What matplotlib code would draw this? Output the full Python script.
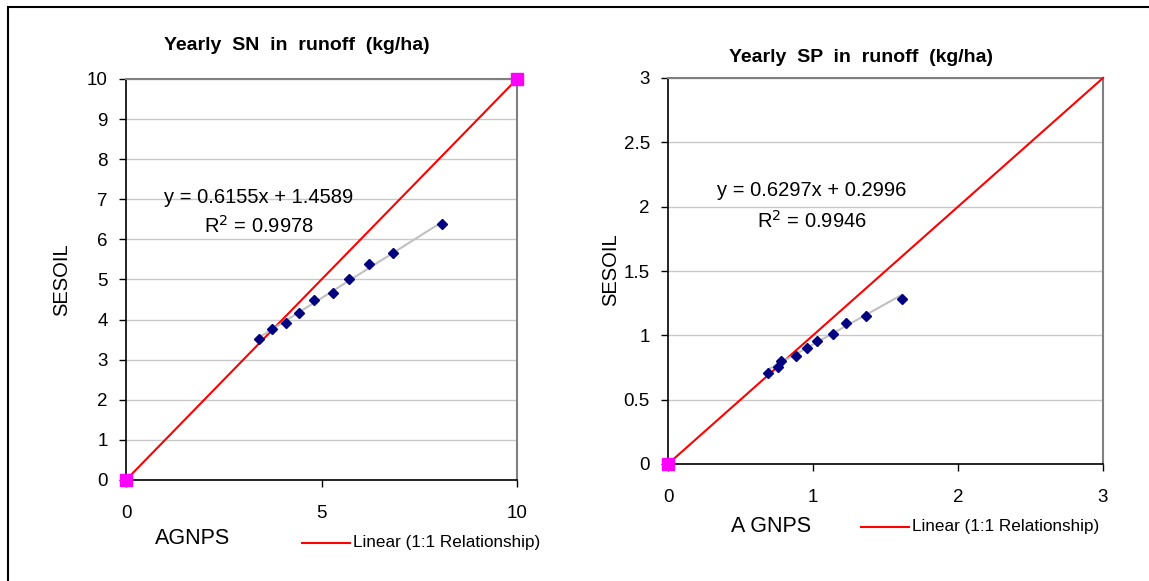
import numpy as np
import matplotlib.pyplot as plt
from matplotlib.patches import Rectangle
from matplotlib.lines import Line2D

plt.rcParams['font.family'] = ['Liberation Sans', 'DejaVu Sans']

# yearly SN (kg/ha)
sn_agnps = [3.41, 3.73, 4.09, 4.42, 4.82, 5.29, 5.71, 6.22, 6.82, 8.08]
sn_sesoil = [3.51, 3.76, 3.92, 4.17, 4.49, 4.66, 5.01, 5.38, 5.65, 6.38]
sn_fit = (0.6155, 1.4589)
sn_r2 = 0.9978

# yearly SP (kg/ha)
sp_agnps = [0.692, 0.761, 0.777, 0.883, 0.956, 1.025, 1.136, 1.228, 1.366, 1.612]
sp_sesoil = [0.710, 0.751, 0.803, 0.839, 0.904, 0.956, 1.010, 1.093, 1.150, 1.282]
sp_fit = (0.6297, 0.2996)
sp_r2 = 0.9946

W, H = 1149, 581
fig = plt.figure(figsize=(W / 100, H / 100), dpi=100)

# outer frame (runs off the right/bottom edge)
fig.patches.append(Rectangle((8 / W, -0.1), 1.2, 1 - 7 / H + 0.1, transform=fig.transFigure,
                             fill=False, edgecolor='black', linewidth=1.5))


def px_axes(l, r, t, b):
    return fig.add_axes([l / W, 1 - b / H, (r - l) / W, (b - t) / H])


def draw_panel(ax, x, y, fit, lim, xstep, ystep, one_one_marks):
    ax.set_xlim(0, lim)
    ax.set_ylim(0, lim)
    ax.set_xticks(np.arange(0, lim + 0.01, xstep))
    yt = np.arange(0, lim + 0.001, ystep)
    ax.set_yticks(yt)
    ax.set_yticklabels([f'{v:g}' for v in yt])
    ax.yaxis.grid(True, color='#c8c8c8', linewidth=1)
    ax.set_axisbelow(True)
    for s in ['top', 'right']:
        ax.spines[s].set_color('#808080')
        ax.spines[s].set_linewidth(1.5)
    for s in ['left', 'bottom']:
        ax.spines[s].set_color('black')
        ax.spines[s].set_linewidth(1.2)
    ax.tick_params(axis='both', labelsize=13.5, length=5, width=1)
    ax.tick_params(axis='x', pad=13)
    ax.tick_params(axis='y', pad=8)

    # 1:1 line
    ax.plot([0, lim], [0, lim], color='red', linewidth=1.5, clip_on=False, zorder=3)
    ax.plot(one_one_marks, one_one_marks, linestyle='none', marker='s', markersize=8,
            color='magenta', clip_on=False, zorder=4)

    # trendline
    xs = np.array([min(x), max(x)])
    ax.plot(xs, fit[0] * xs + fit[1], color='#c0c0c0', linewidth=1.5, zorder=3)
    ax.plot(x, y, linestyle='none', marker='D', markersize=5.5, color='#000080', zorder=5)


axL = px_axes(126, 517, 79, 480)
draw_panel(axL, sn_agnps, sn_sesoil, sn_fit, 10, 5, 1, [0, 10])
axR = px_axes(668, 1103, 78, 464)
draw_panel(axR, sp_agnps, sp_sesoil, sp_fit, 3, 1, 0.5, [0])

# titles
fig.text(297 / W, 1 - 45 / H, 'Yearly  SN  in  runoff  (kg/ha)', fontsize=14, fontweight='bold',
         ha='center', va='center')
fig.text(861 / W, 1 - 57 / H, 'Yearly  SP  in  runoff  (kg/ha)', fontsize=14, fontweight='bold',
         ha='center', va='center')

# equation labels
fs = 14.5
fig.text(259 / W, 1 - 198 / H, f'y = {sn_fit[0]}x + {sn_fit[1]}', fontsize=fs, ha='center', va='center')
fig.text(259 / W, 1 - 226 / H, f'R$^2$ = {sn_r2}', fontsize=fs, ha='center', va='center')
fig.text(812 / W, 1 - 190 / H, f'y = {sp_fit[0]}x + {sp_fit[1]}', fontsize=fs, ha='center', va='center')
fig.text(812 / W, 1 - 221 / H, f'R$^2$ = {sp_r2}', fontsize=fs, ha='center', va='center')

# axis labels
fig.text(62 / W, 1 - 280 / H, 'SESOIL', fontsize=14.5, rotation=90, ha='center', va='center')
fig.text(611 / W, 1 - 270 / H, 'SESOIL', fontsize=14.5, rotation=90, ha='center', va='center')
fig.text(193 / W, 1 - 538 / H, 'AGNPS', fontsize=15.5, ha='center', va='center')
fig.text(771 / W, 1 - 527 / H, 'A GNPS', fontsize=15.5, ha='center', va='center')

# legends
for x0, yy in [(302, 543), (861, 527)]:
    fig.lines.append(Line2D([x0 / W, (x0 + 48) / W], [1 - yy / H, 1 - yy / H],
                            transform=fig.transFigure, color='red', linewidth=1.5))
    fig.text((x0 + 51) / W, 1 - yy / H, 'Linear (1:1 Relationship)', fontsize=12.3,
             ha='left', va='center')

fig.savefig('out.png', dpi=100)
